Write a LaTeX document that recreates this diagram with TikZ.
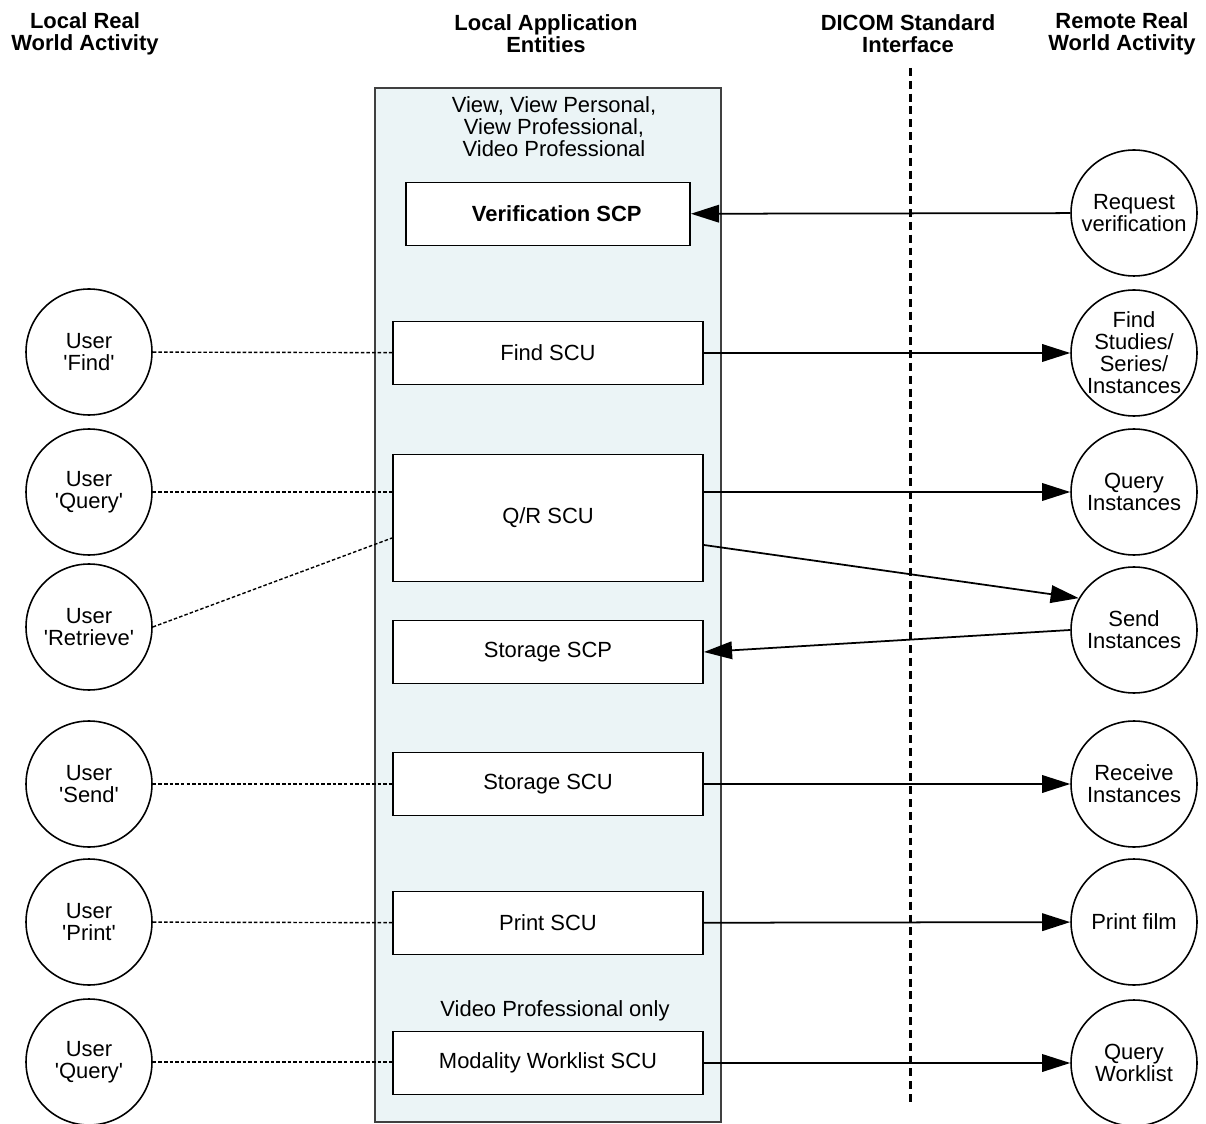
\documentclass[tikz,border=0pt]{standalone}
\usepackage{fontspec}
\setmainfont{Liberation Sans}
\usetikzlibrary{positioning, calc, arrows.meta}
\definecolor{aefill}{RGB}{235,244,246}

\begin{document}
\begin{tikzpicture}[x=0.02cm, y=-0.02cm, >={Triangle[length=16pt,width=10pt]},
					font=\fontsize{12.5}{12.5}\selectfont, every node/.style={align=center},
					titulo/.style={font=\fontsize{12.5}{12.5}\selectfont\bfseries},
					servico/.style={draw, line width=1.1pt, fill=white, minimum width=6.2cm, minimum height=1.26cm},
					ator/.style={circle, draw, line width=0.9pt, minimum size=2.52cm, inner sep=0pt},
					msg/.style={->, line width=1pt},
					usuario/.style={line width=0.8pt, dash pattern=on 2pt off 1.2pt}]
					\useasboundingbox (0,0) rectangle (1206,1124);
					
					%Cabeçalhos:
					\node[titulo] (hLocal)  at (85,34)   {Local Real\\World Activity};
					\node[titulo] (hAE)     at (546,34)  {Local Application\\Entities};
					\node[titulo] (hDicom)  at (908,34)  {DICOM Standard\\Interface};
					\node[titulo] (hRemote) at (1122,34) {Remote Real\\World Activity};
					
					%Entidades locais:
					\node[draw=black!75, line width=0.8pt, fill=aefill, minimum width=6.92cm,
						minimum height=20.68cm] (ae) at (548,605) {};
					\node (aeNome) at (554,127) {View, View Personal,\\View Professional,\\Video Professional};
					\node[servico, titulo, minimum width=5.68cm] (verif) at (548,214) {\hspace*{10pt}Verification SCP};
					\node[servico] (find)     at (548,353)  {Find SCU};
					\node[servico, minimum height=2.54cm] (qr) at (548,518) {Q/R SCU};
					\node[servico] (storescp) at (548,652)  {Storage SCP};
					\node[servico] (storescu) at (548,784)  {Storage SCU};
					\node[servico] (print)    at (548,923)  {Print SCU};
					\node          (soVideo)  at (555,1011) {Video Professional only};
					\node[servico] (mwl)      at (548,1063) {Modality Worklist SCU};
					
					%Interface DICOM:
					\coordinate (dTop) at (910,68);
					\coordinate (dBot) at (910,1105);
					\draw[line width=1.7pt, dash pattern=on 4.5pt off 2.8pt] (dTop) -- (dBot);
					
					%Atividades locais:
					\node[ator] (uFind)  at (89,352)  {User\\\textquotesingle Find\textquotesingle};
					\node[ator] (uQuery) at (89,492)  {User\\\textquotesingle Query\textquotesingle};
					\node[ator] (uRetr)  at (89,627)  {User\\\textquotesingle Retrieve\textquotesingle};
					\node[ator] (uSend)  at (89,784)  {User\\\textquotesingle Send\textquotesingle};
					\node[ator] (uPrint) at (89,922)  {User\\\textquotesingle Print\textquotesingle};
					\node[ator] (uMwl)   at (89,1062) {User\\\textquotesingle Query\textquotesingle};
					
					%Atividades remotas:
					\node[ator] (rVerif) at (1134,213)  {Request\\verification};
					\node[ator] (rFind)  at (1134,353)  {Find\\Studies/\\Series/\\Instances};
					\node[ator] (rQuery) at (1134,492)  {Query\\Instances};
					\node[ator] (rSend)  at (1134,630)  {Send\\Instances};
					\node[ator] (rRecv)  at (1134,784)  {Receive\\Instances};
					\node[ator] (rPrint) at (1134,922)  {Print film};
					\node[ator] (rMwl)   at (1134,1063) {Query\\Worklist};
					
					%Ligações:
					\path[usuario] (uFind) edge (find)
						(uQuery) edge (qr.west |- uQuery)
						(uRetr.east) edge ($(qr.west)+(0,20)$)
						(uSend) edge (storescu)
						(uPrint) edge (print)
						(uMwl) edge (mwl.west |- uMwl);
					
					\path[msg] (rVerif) edge (verif)
						(find) edge (rFind)
						(qr.east |- rQuery) edge (rQuery)
						($(qr.east)+(0,27)$) edge (rSend.150)
						(rSend.west) edge (storescp.east)
						(storescu) edge (rRecv)
						(print) edge (rPrint)
						(mwl.east |- rMwl) edge (rMwl);
				\end{tikzpicture}
\end{document}
